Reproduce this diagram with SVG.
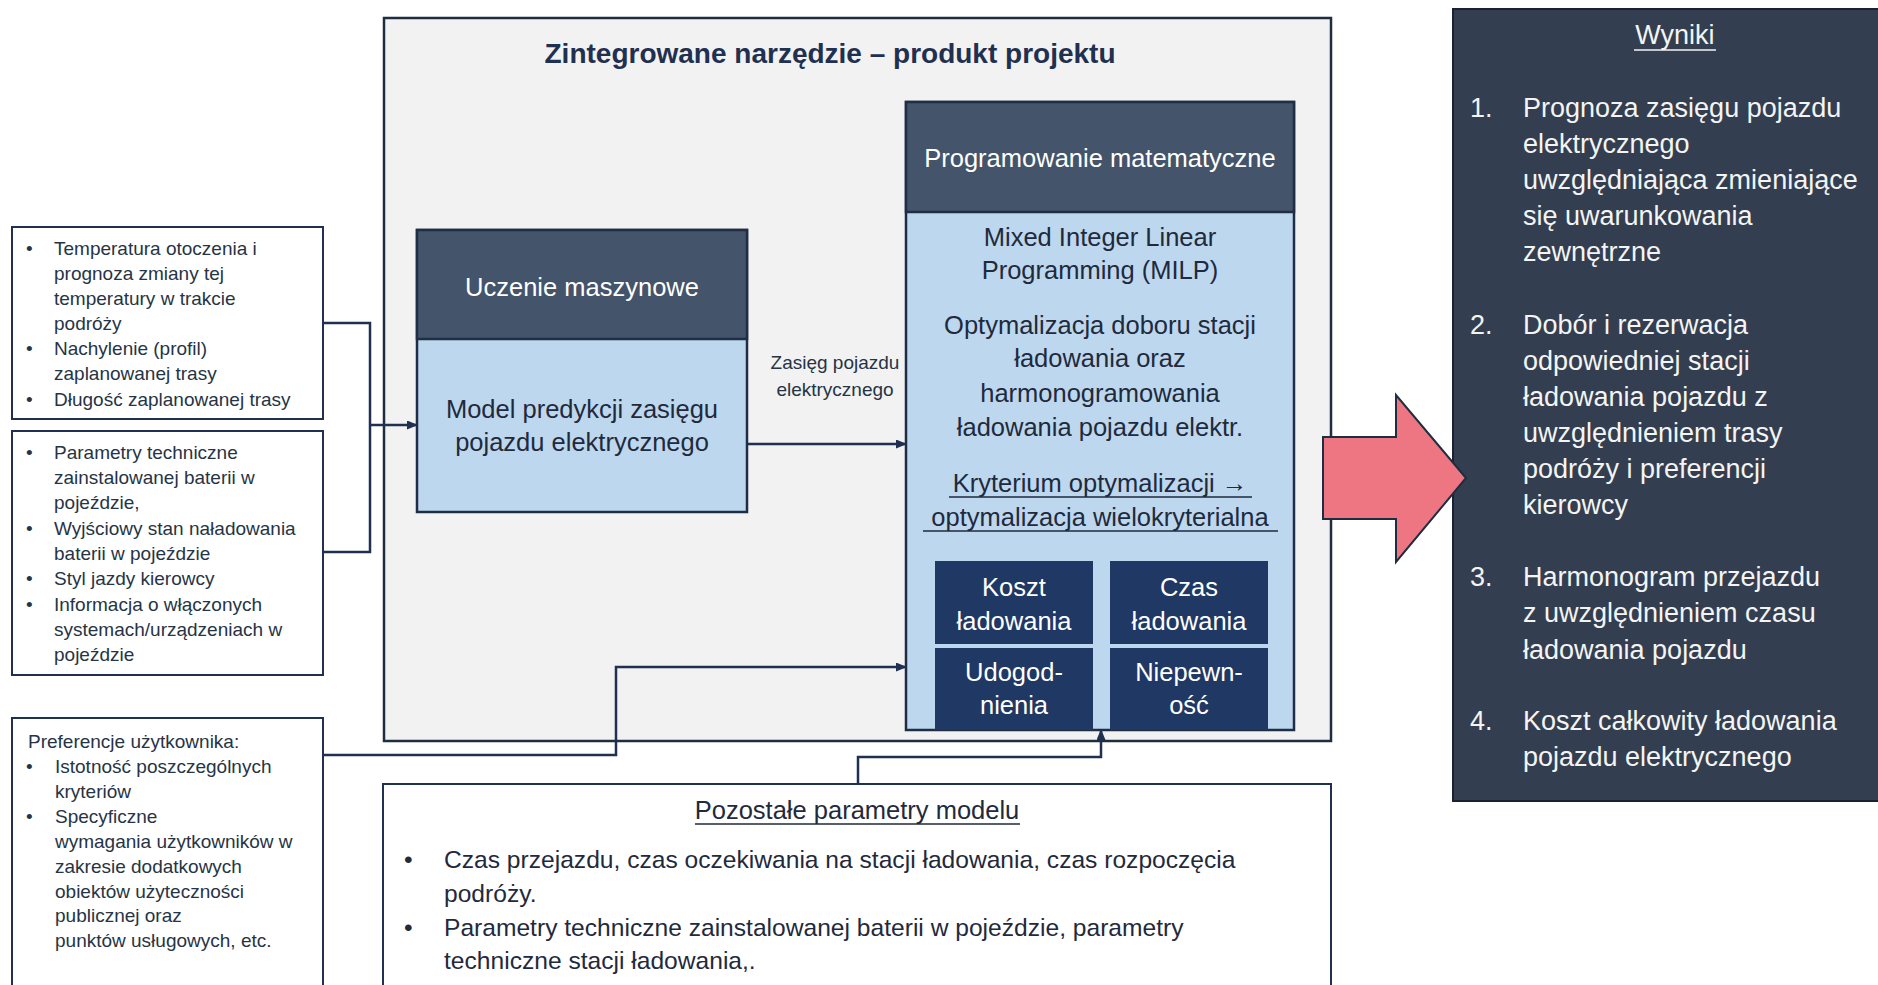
<svg xmlns="http://www.w3.org/2000/svg" width="1878" height="985" viewBox="0 0 1878 985">
<defs>
<marker id="ah" markerWidth="11" markerHeight="9" refX="10" refY="4.5" orient="auto" markerUnits="userSpaceOnUse">
<path d="M0,0 L11,4.5 L0,9 z" fill="#1F3050"/>
</marker>
<style>
text{font-family:"Liberation Sans",Arial,sans-serif}
.lb{fill:#fff;stroke:#1F3050;stroke-width:2}
.lt{font-size:19px;fill:#263445}
.hd{fill:#44546A;stroke:#1F2D45;stroke-width:2.5}
.bd{fill:#BDD7EE;stroke:#1F2D45;stroke-width:2.5}
.ht{font-size:25.5px;fill:#fff;text-anchor:middle}
.bt{font-size:25.5px;fill:#1F2A3C;text-anchor:middle}
.pt{font-size:24.6px;fill:#1F2A3C}
.cr{fill:#1F3864}
.ct{font-size:25.5px;fill:#fff;text-anchor:middle}
.wt{font-size:27px;fill:#F4F4F4}
.ul{stroke-width:1.6}
.con{fill:none;stroke:#1F3050;stroke-width:2.5}
</style>
</defs>
<rect width="1878" height="985" fill="#fff"/>

<g id="outer">
<rect x="384" y="18" width="947" height="723" fill="#F2F2F2" stroke="#1F2D40" stroke-width="2.5"/>
<text x="830" y="63" font-size="28" font-weight="bold" fill="#1F3050" text-anchor="middle">Zintegrowane narzędzie – produkt projektu</text>
</g>

<g id="inputs1">
<rect class="lb" x="12" y="227" width="311" height="192"/>
<text class="lt" x="26" y="255">•</text>
<text class="lt" x="54" y="255">Temperatura otoczenia i</text>
<text class="lt" x="54" y="280">prognoza zmiany tej</text>
<text class="lt" x="54" y="305">temperatury w trakcie</text>
<text class="lt" x="54" y="330">podróży</text>
<text class="lt" x="26" y="355">•</text>
<text class="lt" x="54" y="355">Nachylenie (profil)</text>
<text class="lt" x="54" y="380">zaplanowanej trasy</text>
<text class="lt" x="26" y="406">•</text>
<text class="lt" x="54" y="406">Długość zaplanowanej trasy</text>
</g>

<g id="inputs2">
<rect class="lb" x="12" y="431" width="311" height="244"/>
<text class="lt" x="26" y="459">•</text>
<text class="lt" x="54" y="459">Parametry techniczne</text>
<text class="lt" x="54" y="484">zainstalowanej baterii w</text>
<text class="lt" x="54" y="509">pojeździe,</text>
<text class="lt" x="26" y="535">•</text>
<text class="lt" x="54" y="535">Wyjściowy stan naładowania</text>
<text class="lt" x="54" y="560">baterii w pojeździe</text>
<text class="lt" x="26" y="585">•</text>
<text class="lt" x="54" y="585">Styl jazdy kierowcy</text>
<text class="lt" x="26" y="611">•</text>
<text class="lt" x="54" y="611">Informacja o włączonych</text>
<text class="lt" x="54" y="636">systemach/urządzeniach w</text>
<text class="lt" x="54" y="661">pojeździe</text>
</g>

<g id="preferences">
<rect class="lb" x="12" y="718" width="311" height="290"/>
<text class="lt" x="28" y="748">Preferencje użytkownika:</text>
<text class="lt" x="26" y="773">•</text>
<text class="lt" x="55" y="773">Istotność poszczególnych</text>
<text class="lt" x="55" y="798">kryteriów</text>
<text class="lt" x="26" y="823">•</text>
<text class="lt" x="55" y="823">Specyficzne</text>
<text class="lt" x="55" y="848">wymagania użytkowników w</text>
<text class="lt" x="55" y="873">zakresie dodatkowych</text>
<text class="lt" x="55" y="898">obiektów użyteczności</text>
<text class="lt" x="55" y="922">publicznej oraz</text>
<text class="lt" x="55" y="947">punktów usługowych, etc.</text>
</g>

<g id="ml">
<rect class="bd" x="417" y="230" width="330" height="282"/>
<rect class="hd" x="417" y="230" width="330" height="109"/>
<text class="ht" x="582" y="296">Uczenie maszynowe</text>
<text class="bt" x="582" y="418">Model predykcji zasięgu</text>
<text class="bt" x="582" y="451">pojazdu elektrycznego</text>
</g>

<g id="mp">
<rect class="bd" x="906" y="102" width="388" height="628"/>
<rect class="hd" x="906" y="102" width="388" height="110"/>
<text class="ht" x="1100" y="167">Programowanie matematyczne</text>
<text class="bt" x="1100" y="246">Mixed Integer Linear</text>
<text class="bt" x="1100" y="279">Programming (MILP)</text>
<text class="bt" x="1100" y="334">Optymalizacja doboru stacji</text>
<text class="bt" x="1100" y="367">ładowania oraz</text>
<text class="bt" x="1100" y="402">harmonogramowania</text>
<text class="bt" x="1100" y="436">ładowania pojazdu elektr.</text>
<text class="bt" x="1100" y="492">Kryterium optymalizacji →</text>
<text class="bt" x="1100" y="526">optymalizacja wielokryterialna</text>
<line class="ul" x1="949" y1="497" x2="1252" y2="497" stroke="#1F2A3C"/>
<line class="ul" x1="923" y1="531" x2="1278" y2="531" stroke="#1F2A3C"/>
</g>

<g id="crit-koszt">
<rect class="cr" x="935" y="561" width="158" height="83"/>
<text class="ct" x="1014" y="596">Koszt</text>
<text class="ct" x="1014" y="630">ładowania</text>
</g>
<g id="crit-czas">
<rect class="cr" x="1110" y="561" width="158" height="83"/>
<text class="ct" x="1189" y="596">Czas</text>
<text class="ct" x="1189" y="630">ładowania</text>
</g>
<g id="crit-udog">
<rect class="cr" x="935" y="648" width="158" height="82"/>
<text class="ct" x="1014" y="681">Udogod-</text>
<text class="ct" x="1014" y="714">nienia</text>
</g>
<g id="crit-niep">
<rect class="cr" x="1110" y="648" width="158" height="82"/>
<text class="ct" x="1189" y="681">Niepewn-</text>
<text class="ct" x="1189" y="714">ość</text>
</g>

<g id="other-params">
<rect x="383" y="784" width="948" height="230" fill="#fff" stroke="#1F3050" stroke-width="2"/>
<text class="bt" x="857" y="819">Pozostałe parametry modelu</text>
<line class="ul" x1="695" y1="824" x2="1020" y2="824" stroke="#1F2A3C"/>
<text class="pt" x="404" y="868">•</text>
<text class="pt" x="444" y="868">Czas przejazdu, czas oczekiwania na stacji ładowania, czas rozpoczęcia</text>
<text class="pt" x="444" y="902">podróży.</text>
<text class="pt" x="404" y="936">•</text>
<text class="pt" x="444" y="936">Parametry techniczne zainstalowanej baterii w pojeździe, parametry</text>
<text class="pt" x="444" y="969">techniczne stacji ładowania,.</text>
</g>

<g id="results">
<rect x="1453" y="9" width="440" height="792" fill="#333F50" stroke="#1A2232" stroke-width="2"/>
<text class="wt" x="1675" y="44" text-anchor="middle">Wyniki</text>
<line x1="1634" y1="50" x2="1716" y2="50" stroke="#F4F4F4" stroke-width="1.6"/>
<text class="wt" x="1470" y="117">1.</text>
<text class="wt" x="1523" y="117">Prognoza zasięgu pojazdu</text>
<text class="wt" x="1523" y="153">elektrycznego</text>
<text class="wt" x="1523" y="189">uwzględniająca zmieniające</text>
<text class="wt" x="1523" y="225">się uwarunkowania</text>
<text class="wt" x="1523" y="261">zewnętrzne</text>
<text class="wt" x="1470" y="334">2.</text>
<text class="wt" x="1523" y="334">Dobór i rezerwacja</text>
<text class="wt" x="1523" y="370">odpowiedniej stacji</text>
<text class="wt" x="1523" y="406">ładowania pojazdu z</text>
<text class="wt" x="1523" y="442">uwzględnieniem trasy</text>
<text class="wt" x="1523" y="478">podróży i preferencji</text>
<text class="wt" x="1523" y="514">kierowcy</text>
<text class="wt" x="1470" y="586">3.</text>
<text class="wt" x="1523" y="586">Harmonogram przejazdu</text>
<text class="wt" x="1523" y="622">z uwzględnieniem czasu</text>
<text class="wt" x="1523" y="659">ładowania pojazdu</text>
<text class="wt" x="1470" y="730">4.</text>
<text class="wt" x="1523" y="730">Koszt całkowity ładowania</text>
<text class="wt" x="1523" y="766">pojazdu elektrycznego</text>
</g>

<g id="big-arrow">
<polygon points="1323,437 1396,437 1396,395 1466,478 1396,562 1396,519 1323,519" fill="#EE7682" stroke="#1F2D40" stroke-width="2"/>
</g>

<g id="connectors">
<path class="con" d="M323,323 H370 V552 H323"/>
<path class="con" d="M370,425 H417" marker-end="url(#ah)"/>
<path class="con" d="M747,444 H906" marker-end="url(#ah)"/>
<path class="con" d="M323,755 H616 V667 H906" marker-end="url(#ah)"/>
<path class="con" d="M858,784 V757 H1101 V730" marker-end="url(#ah)"/>
<text x="835" y="369" font-size="19" fill="#263445" text-anchor="middle">Zasięg pojazdu</text>
<text x="835" y="396" font-size="19" fill="#263445" text-anchor="middle">elektrycznego</text>
</g>
</svg>
